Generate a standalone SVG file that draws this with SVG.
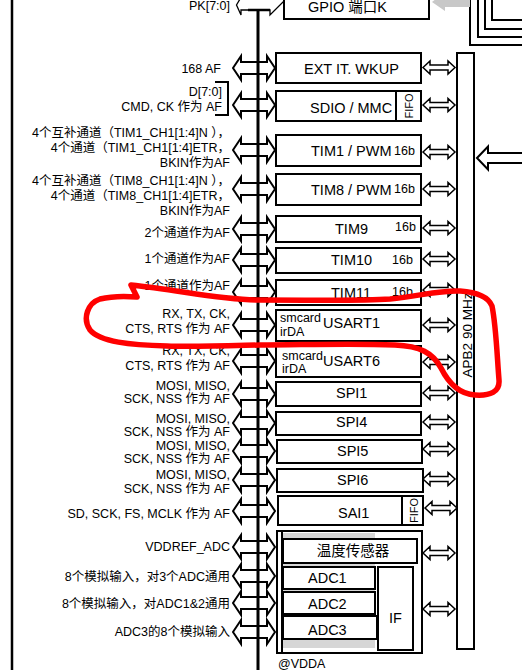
<svg xmlns="http://www.w3.org/2000/svg" xmlns:xlink="http://www.w3.org/1999/xlink" width="522" height="670" viewBox="0 0 522 670">
<style>
.box{fill:#fff;stroke:#000;stroke-width:2}
.t{font-family:"Liberation Sans","Noto Sans CJK SC",sans-serif;fill:#000}
.lbl{font-size:12.5px;text-anchor:end}
.bt{font-size:14.5px}
.sm{font-size:12.5px}
.arr{fill:#fff;stroke:#000;stroke-width:2;stroke-linejoin:miter}
.rar{fill:#fff;stroke:#000;stroke-width:1.5;stroke-linejoin:miter}
</style>
<defs>
<path id="la" d="M233,0 L241,-12 L241,-6 L267,-6 L267,-12 L275,0 L267,12 L267,6 L241,6 L241,12 Z"/>
<path id="ra" d="M423,0 L430,-6.5 L430,-2.5 L448,-2.5 L448,-6.5 L455,0 L448,6.5 L448,2.5 L430,2.5 L430,6.5 Z"/>
</defs>
<rect width="522" height="670" fill="#fff"/>
<line x1="12" y1="0" x2="12" y2="670" stroke="#000" stroke-width="2.5"/>

<g id="ahb-lines" fill="none" stroke="#000" stroke-width="2">
<path d="M470,0 V45 H522"/>
<path d="M478,0 V37 H522"/>
<path d="M485,0 V29 H522"/>
<path d="M492,0 V20 H522"/>
</g>
<polygon id="gray-arrow" points="432,2 445,-8 445,-4 470,-4 470,7 445,7 445,11" fill="#c8c8c8"/>

<g id="connectors">
<g class="arr">
<use xlink:href="#la" y="68"/><use xlink:href="#la" y="105"/><use xlink:href="#la" y="150"/><use xlink:href="#la" y="189"/>
<use xlink:href="#la" y="229"/><use xlink:href="#la" y="260"/><use xlink:href="#la" y="292"/><use xlink:href="#la" y="325"/>
<use xlink:href="#la" y="361"/><use xlink:href="#la" y="394"/><use xlink:href="#la" y="423"/><use xlink:href="#la" y="451"/>
<use xlink:href="#la" y="480"/><use xlink:href="#la" y="511"/><use xlink:href="#la" y="547"/><use xlink:href="#la" y="576"/>
<use xlink:href="#la" y="603"/><use xlink:href="#la" y="632"/>
</g>
<path d="M240,-1 L236.5,5 L241,15 L241,10 L270,10 L270,15 L285,0" fill="none" stroke="#000" stroke-width="1.3"/>
<line x1="248" y1="10" x2="270" y2="10" stroke="#000" stroke-width="2.5"/>
<line x1="258" y1="9" x2="258" y2="670" stroke="#000" stroke-width="3"/>
<g class="rar">
<use xlink:href="#ra" y="67.5"/><use xlink:href="#ra" y="105"/><use xlink:href="#ra" y="152"/><use xlink:href="#ra" y="189"/>
<use xlink:href="#ra" y="228"/><use xlink:href="#ra" y="259"/><use xlink:href="#ra" y="290"/><use xlink:href="#ra" y="325"/>
<use xlink:href="#ra" y="362"/><use xlink:href="#ra" y="393"/><use xlink:href="#ra" y="422"/><use xlink:href="#ra" y="449"/>
<use xlink:href="#ra" y="479"/><use xlink:href="#ra" x="2" y="508"/><use xlink:href="#ra" y="553"/><use xlink:href="#ra" y="609"/>
</g>
<path d="M477,158 L488,146.5 L488,153 L530,153 L530,163 L488,163 L488,169.5 Z" fill="#fff" stroke="#000" stroke-width="2"/>
</g>

<g id="labels" class="t lbl">
<text x="230" y="10">PK[7:0]</text>
<text x="221" y="72.5">168 AF</text>
<text x="222" y="96">D[7:0]</text>
<text x="222" y="111">CMD, CK 作为 AF</text>
<text x="230" y="137">4个互补通道（TIM1_CH1[1:4]N ），</text>
<text x="230" y="152">4个通道（TIM1_CH1[1:4]ETR，</text>
<text x="230" y="167">BKIN作为AF</text>
<text x="230" y="185">4个互补通道（TIM8_CH1[1:4]N ），</text>
<text x="230" y="200">4个通道（TIM8_CH1[1:4]ETR，</text>
<text x="230" y="215">BKIN作为AF</text>
<text x="230" y="236.5">2个通道作为AF</text>
<text x="230" y="263">1个通道作为AF</text>
<text x="230" y="290">1个通道作为AF</text>
<text x="230" y="318">RX, TX, CK,</text>
<text x="230" y="333">CTS, RTS 作为 AF</text>
<text x="230" y="355">RX, TX, CK,</text>
<text x="230" y="370">CTS, RTS 作为 AF</text>
<text x="230" y="390">MOSI, MISO,</text>
<text x="230" y="403">SCK, NSS 作为 AF</text>
<text x="230" y="423">MOSI, MISO,</text>
<text x="230" y="436">SCK, NSS 作为 AF</text>
<text x="230" y="450">MOSI, MISO,</text>
<text x="230" y="463">SCK, NSS 作为 AF</text>
<text x="230" y="479">MOSI, MISO,</text>
<text x="230" y="493">SCK, NSS 作为 AF</text>
<text x="230" y="518">SD, SCK, FS, MCLK 作为 AF</text>
<text x="230" y="551">VDDREF_ADC</text>
<text x="230" y="581">8个模拟输入，对3个ADC通用</text>
<text x="230" y="608">8个模拟输入，对ADC1&amp;2通用</text>
<text x="230" y="636">ADC3的8个模拟输入</text>
</g>
<path id="sdio-bracket" d="M215,82 H228 V115 H215" fill="none" stroke="#000" stroke-width="2"/>

<g id="gpiok"><rect class="box" x="284" y="-3" width="145" height="22"/><text class="t bt" x="308" y="12">GPIO 端口K</text></g>
<g id="ext-it"><rect class="box" x="276" y="53" width="145" height="30"/><text class="t bt" x="304" y="74">EXT IT. WKUP</text></g>
<g id="sdio"><rect class="box" x="276" y="91" width="145" height="30"/><line x1="396" y1="91" x2="396" y2="121" stroke="#000" stroke-width="2"/><text class="t bt" x="310" y="113">SDIO / MMC</text><text class="t" font-size="11px" text-anchor="middle" transform="translate(413,106) rotate(-90)">FIFO</text></g>
<g id="tim1"><rect class="box" x="276" y="135" width="145" height="31"/><text class="t bt" x="311" y="156">TIM1 / PWM</text><text class="t sm" x="394" y="155">16b</text></g>
<g id="tim8"><rect class="box" x="276" y="174" width="145" height="31"/><text class="t bt" x="311" y="195">TIM8 / PWM</text><text class="t sm" x="394" y="193">16b</text></g>
<g id="tim9"><rect class="box" x="276" y="216" width="145" height="26"/><text class="t bt" x="335" y="234">TIM9</text><text class="t sm" x="395" y="231">16b</text></g>
<g id="tim10"><rect class="box" x="276" y="248" width="145" height="25"/><text class="t bt" x="331" y="265">TIM10</text><text class="t sm" x="392" y="264">16b</text></g>
<g id="tim11"><rect class="box" x="276" y="280" width="145" height="25"/><text class="t bt" x="331" y="298">TIM11</text><text class="t sm" x="392" y="296">16b</text></g>
<g id="usart1"><rect class="box" x="276" y="310" width="145" height="31"/><text class="t sm" x="280" y="322">smcard</text><text class="t sm" x="280" y="336">irDA</text><text class="t bt" x="323" y="328">USART1</text></g>
<g id="usart6"><rect class="box" x="276" y="346" width="145" height="31"/><text class="t sm" x="282" y="360">smcard</text><text class="t sm" x="282" y="373">irDA</text><text class="t bt" x="323" y="366">USART6</text></g>
<g id="spi1"><rect class="box" x="276" y="382" width="145" height="24"/><text class="t bt" x="336" y="398">SPI1</text></g>
<g id="spi4"><rect class="box" x="276" y="412" width="145" height="23"/><text class="t bt" x="336" y="427">SPI4</text></g>
<g id="spi5"><rect class="box" x="277" y="440" width="145" height="23"/><text class="t bt" x="337" y="456">SPI5</text></g>
<g id="spi6"><rect class="box" x="277" y="469" width="146" height="23"/><text class="t bt" x="337" y="485">SPI6</text></g>
<g id="sai1"><rect class="box" x="278" y="496" width="145" height="29"/><line x1="402" y1="496" x2="402" y2="525" stroke="#000" stroke-width="2"/><text class="t bt" x="338" y="518">SAI1</text><text class="t" font-size="11px" text-anchor="middle" transform="translate(418,510.5) rotate(-90)">FIFO</text></g>

<g id="adc-block">
<rect class="box" x="277" y="531" width="145" height="122"/>
<rect x="282" y="533" width="93" height="115" fill="#d6d6d6"/>
<line x1="282" y1="532" x2="282" y2="652" stroke="#000" stroke-width="2"/>
<g id="temp"><rect class="box" x="283" y="539" width="134" height="24"/><text class="t bt" x="353" y="556" text-anchor="middle">温度传感器</text></g>
<g id="adc1"><rect class="box" x="283" y="567" width="92" height="22"/><text class="t bt" x="308" y="583">ADC1</text></g>
<g id="adc2"><rect class="box" x="283" y="592" width="92" height="22"/><text class="t bt" x="308" y="609">ADC2</text></g>
<g id="adc3"><rect class="box" x="283" y="616" width="94" height="23"/><text class="t bt" x="308" y="635">ADC3</text></g>
<g id="if"><rect class="box" x="378" y="567" width="35" height="83"/><text class="t bt" x="389" y="623">IF</text></g>
<text class="t sm" x="278" y="668">@VDDA</text>
</g>

<g id="apb2"><rect class="box" x="457" y="53" width="17" height="596"/><text class="t" font-size="13.5px" text-anchor="middle" transform="translate(472,335) rotate(-90)">APB2 90 MHz</text></g>

<path id="red-mark" d="M137,297 L131,285 C180,290 220,300 260,300 C320,300 360,301 390,299 C420,296 440,290 460,291 C475,292 488,296 492,306 C496,325 497,355 499,380 C500,392 490,396 475,395 C458,394 448,382 441,368 C433,353 420,346 395,345 C350,343 300,345 260,345 C220,346 190,347 167,346 C130,345 100,342 90,330 C82,318 88,303 100,299 C112,296 125,296 137,297" fill="none" stroke="#f00" stroke-width="5.5" stroke-linecap="round" stroke-linejoin="round"/>
</svg>
